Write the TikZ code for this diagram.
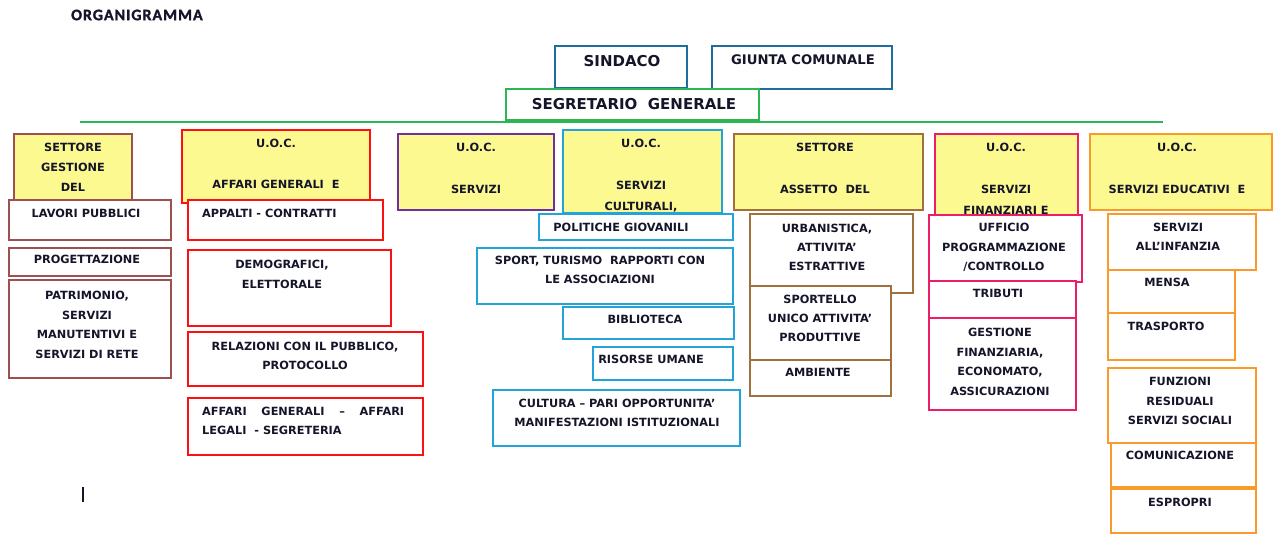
\documentclass[tikz,border=0pt]{standalone}
\usepackage{fontspec}
\setmainfont{DejaVu Sans}
\newfontfamily\titlefont[LetterSpace=6,FakeBold=1.5]{Carlito Bold}
\usetikzlibrary{fit}
\definecolor{ink}{HTML}{15152A}
\definecolor{yfill}{HTML}{FCF991}
\definecolor{cblue}{HTML}{1F6C9F}
\definecolor{cgreen}{HTML}{2DB552}
\definecolor{cbrownA}{HTML}{9E5050}
\definecolor{cred}{HTML}{FF1010}
\definecolor{cpurple}{HTML}{7030A0}
\definecolor{ccyan}{HTML}{23A4D8}
\definecolor{cbrownB}{HTML}{A0703D}
\definecolor{cpink}{HTML}{EC1E6A}
\definecolor{corange}{HTML}{F99A2B}
\newcommand\fsz{11.3}
\tikzset{
  box/.style={draw=#1, line width=2pt, fill=white, inner sep=0pt},
  hbox/.style={draw=#1, line width=2pt, fill=yfill, inner sep=0pt},
  lbl/.style={font=\bfseries\fontsize{\fsz}{20}\selectfont, text=ink, align=center, anchor=north, inner sep=0pt},
  big/.style={font=\bfseries\fontsize{15}{16}\selectfont, text=ink, anchor=center, inner sep=0pt},
}
\newcommand\bx[6]{\node[#2, fit={(#3,#4) (#5,#6)}] (#1) {};}
\begin{document}
\begin{tikzpicture}[x=1pt,y=-1pt]
\useasboundingbox[fill=white] (0,0) rectangle (1276,534);
% title
\node[anchor=west, inner sep=0pt, text=ink, font=\titlefont\fontsize{16}{16}\selectfont] (title) at (71,15) {ORGANIGRAMMA};
% top
\bx{sind}{box=cblue}{555}{46}{687}{88}
\bx{giunta}{box=cblue}{712}{46}{892}{89}
\bx{segr}{box=cgreen}{506}{89}{759}{120}
\node[big, font=\bfseries\fontsize{15}{16}\selectfont] (tsind) at (622,61) {SINDACO};
\node[big, font=\bfseries\fontsize{13.2}{16}\selectfont] (tgiunta) at (803,60) {GIUNTA COMUNALE};
\node[big] (tsegr) at (634,104) {SEGRETARIO\ \ GENERALE};
\coordinate (gl) at (80,122);
\coordinate (gr) at (1163,122);
\draw[cgreen, line width=2.5pt] (gl) -- (gr);
% column 1
\bx{h1}{hbox=cbrownA}{14}{134}{132}{200}
\node[lbl] (th1) at (73,143) {SETTORE\\GESTIONE\\DEL};
\bx{c1a}{box=cbrownA}{9}{200}{171}{240}
\node[lbl] (tc1a) at (86,209) {LAVORI PUBBLICI};
\bx{c1b}{box=cbrownA}{9}{248}{171}{276}
\node[lbl] (tc1b) at (87,255) {PROGETTAZIONE};
\bx{c1c}{box=cbrownA}{9}{280}{171}{378}
\node[lbl, font=\bfseries\fontsize{\fsz}{19.5}\selectfont] (tc1c) at (87,291) {PATRIMONIO,\\SERVIZI\\MANUTENTIVI E\\SERVIZI DI RETE};
% column 2
\bx{h2}{hbox=cred}{182}{130}{370}{203}
\node[lbl] (th2) at (276,139) {U.O.C.\\[21pt]AFFARI GENERALI\ \ E};
\bx{c2a}{box=cred}{188}{200}{383}{240}
\node[lbl, anchor=north west] (tc2a) at (202,209) {APPALTI - CONTRATTI};
\bx{c2b}{box=cred}{188}{250}{391}{326}
\node[lbl] (tc2b) at (282,260) {DEMOGRAFICI,\\ELETTORALE};
\bx{c2c}{box=cred}{188}{332}{423}{386}
\node[lbl, font=\bfseries\fontsize{\fsz}{19}\selectfont] (tc2c) at (305,342) {RELAZIONI CON IL PUBBLICO,\\PROTOCOLLO};
\bx{c2d}{box=cred}{188}{398}{423}{455}
\node[lbl, align=left, anchor=north west, font=\bfseries\fontsize{\fsz}{19}\selectfont] (tc2d) at (202,407) {\makebox[202pt][s]{AFFARI\hfill GENERALI\hfill –\hfill AFFARI}\\LEGALI\ \ - SEGRETERIA};
% column 3
\bx{h3}{hbox=cpurple}{398}{134}{554}{210}
\node[lbl] (th3) at (476,143) {U.O.C.\\[22pt]SERVIZI};
% column 4
\bx{h4}{hbox=ccyan}{563}{130}{722}{213}
\node[lbl, font=\bfseries\fontsize{\fsz}{21}\selectfont] (th4) at (641,139) {U.O.C.\\[21pt]SERVIZI\\CULTURALI,};
\bx{c4a}{box=ccyan}{539}{214}{733}{240}
\node[lbl] (tc4a) at (621,223) {POLITICHE GIOVANILI};
\bx{c4b}{box=ccyan}{477}{248}{733}{304}
\node[lbl, font=\bfseries\fontsize{\fsz}{19}\selectfont] (tc4b) at (600,256) {SPORT, TURISMO\ \ RAPPORTI CON\\LE ASSOCIAZIONI};
\bx{c4c}{box=ccyan}{563}{307}{734}{339}
\node[lbl] (tc4c) at (645,315) {BIBLIOTECA};
\bx{c4d}{box=ccyan}{593}{347}{733}{380}
\node[lbl] (tc4d) at (651,355) {RISORSE UMANE};
\bx{c4e}{box=ccyan}{493}{390}{740}{446}
\node[lbl, font=\bfseries\fontsize{\fsz}{19}\selectfont] (tc4e) at (617,399) {CULTURA – PARI OPPORTUNITA’\\MANIFESTAZIONI ISTITUZIONALI};
% column 5
\bx{h5}{hbox=cbrownB}{734}{134}{923}{210}
\node[lbl] (th5) at (825,143) {SETTORE\\[22pt]ASSETTO\ \ DEL};
\bx{c5a}{box=cbrownB}{750}{214}{913}{293}
\node[lbl, font=\bfseries\fontsize{\fsz}{19}\selectfont] (tc5a) at (827,224) {URBANISTICA,\\ATTIVITA’\\ESTRATTIVE};
\bx{c5b}{box=cbrownB}{750}{286}{891}{360}
\node[lbl, font=\bfseries\fontsize{\fsz}{19}\selectfont] (tc5b) at (820,295) {SPORTELLO\\UNICO ATTIVITA’\\PRODUTTIVE};
\bx{c5c}{box=cbrownB}{750}{360}{891}{396}
\node[lbl] (tc5c) at (818,368) {AMBIENTE};
% column 6
\bx{h6}{hbox=cpink}{935}{134}{1078}{215}
\node[lbl, font=\bfseries\fontsize{\fsz}{21}\selectfont] (th6) at (1006,143) {U.O.C.\\[21pt]SERVIZI\\FINANZIARI E};
\bx{c6a}{box=cpink}{929}{215}{1082}{282}
\node[lbl, font=\bfseries\fontsize{\fsz}{19.5}\selectfont] (tc6a) at (1004,223) {UFFICIO\\PROGRAMMAZIONE\\/CONTROLLO};
\bx{c6b}{box=cpink}{929}{281}{1076}{318}
\node[lbl] (tc6b) at (998,289) {TRIBUTI};
\bx{c6c}{box=cpink}{929}{318}{1076}{410}
\node[lbl, font=\bfseries\fontsize{\fsz}{19.5}\selectfont] (tc6c) at (1000,328) {GESTIONE\\FINANZIARIA,\\ECONOMATO,\\ASSICURAZIONI};
% column 7
\bx{h7}{hbox=corange}{1090}{134}{1272}{210}
\node[lbl] (th7) at (1177,143) {U.O.C.\\[22pt]SERVIZI EDUCATIVI\ \ E};
\bx{c7a}{box=corange}{1108}{214}{1256}{270}
\node[lbl, font=\bfseries\fontsize{\fsz}{19}\selectfont] (tc7a) at (1178,223) {SERVIZI\\ALL’INFANZIA};
\bx{c7b}{box=corange}{1108}{270}{1235}{313}
\node[lbl] (tc7b) at (1167,278) {MENSA};
\bx{c7c}{box=corange}{1108}{313}{1235}{360}
\node[lbl] (tc7c) at (1166,322) {TRASPORTO};
\bx{c7d}{box=corange}{1108}{368}{1256}{443}
\node[lbl, font=\bfseries\fontsize{\fsz}{19.5}\selectfont] (tc7d) at (1180,377) {FUNZIONI\\RESIDUALI\\SERVIZI SOCIALI};
\bx{c7e}{box=corange}{1111}{443}{1256}{487}
\node[lbl] (tc7e) at (1180,451) {COMUNICAZIONE};
\bx{c7f}{box=corange}{1111}{489}{1256}{533}
\node[lbl] (tc7f) at (1180,498) {ESPROPRI};
% cursor mark
\coordinate (cu1) at (83,487);
\coordinate (cu2) at (83,502);
\draw[ink, line width=1.3pt] (cu1) -- (cu2);
\end{tikzpicture}
\end{document}
